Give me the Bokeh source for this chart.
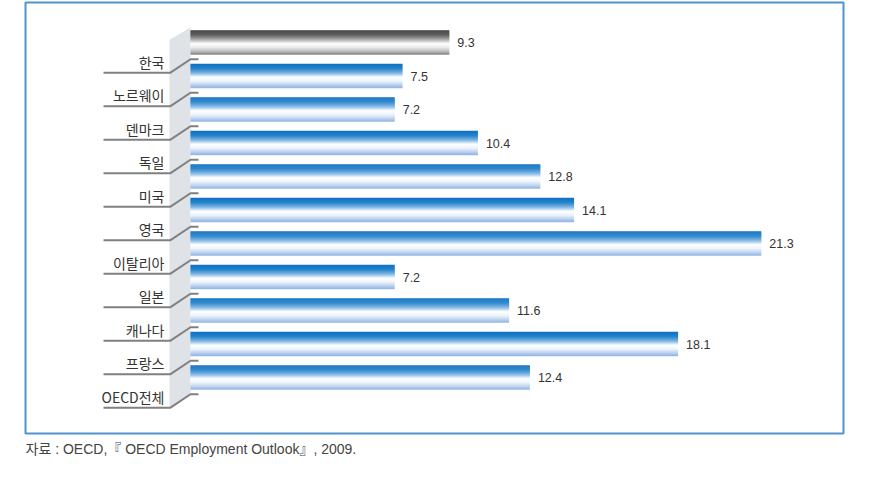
import numpy as np
from bokeh.plotting import figure
from bokeh.models import Range1d, Title, ColumnDataSource
from bokeh.core.properties import value
from bokeh.embed import file_html
from bokeh.resources import INLINE

# ---------------- data ----------------
categories = ["한국", "노르웨이", "덴마크", "독일", "미국", "영국",
              "이탈리아", "일본", "캐나다", "프랑스", "OECD전체"]
values = [9.3, 7.5, 7.2, 10.4, 12.8, 14.1, 21.3, 7.2, 11.6, 18.1, 12.4]
value_labels = ["9.3", "7.5", "7.2", "10.4", "12.8", "14.1",
                "21.3", "7.2", "11.6", "18.1", "12.4"]
highlight = ["한국"]
source_note = "자료 : OECD,『 OECD Employment Outlook』, 2009."

# ---------------- layout helpers (pixel -> data) ----------------
W, H = 876, 472
FL, FR, FT, FB = 25, 843, 2, 433          # frame edges in pixels
X0, XS = 207.0, 26.0                      # x pixel of value 0, px per unit
Y0, YS = 42.0, 33.5                       # y pixel of first row, px per row


def X(px):
    return (px - X0) / XS


def Y(py):
    return (py - Y0) / YS


BAR_H = 24 / YS
N_STRIPS = 24

blue_stops = [(0.0, "#1170bf"), (0.2, "#2383cb"), (0.4, "#86b9e5"),
              (0.56, "#ffffff"), (0.72, "#eef4fb"), (0.88, "#bcd2ef"),
              (1.0, "#8fb2e3")]
gray_stops = [(0.0, "#3a3a3a"), (0.2, "#555555"), (0.4, "#aaaaaa"),
              (0.56, "#ffffff"), (0.72, "#e9e9e9"), (0.88, "#b8b8b8"),
              (1.0, "#808080")]


def hex2rgb(h):
    h = h.lstrip("#")
    return np.array([int(h[k:k + 2], 16) for k in (0, 2, 4)], dtype=float)


def grad(stops, t):
    for (t0, c0), (t1, c1) in zip(stops[:-1], stops[1:]):
        if t0 <= t <= t1:
            f = (t - t0) / (t1 - t0) if t1 > t0 else 0
            c = hex2rgb(c0) * (1 - f) + hex2rgb(c1) * f
            return "#%02x%02x%02x" % tuple(int(round(v)) for v in c)
    return stops[-1][1]


p = figure(width=W, height=H, output_backend="svg", toolbar_location=None,
           x_axis_location=None, y_axis_location=None,
           x_range=Range1d(X(FL), X(FR)), y_range=Range1d(Y(FB), Y(FT)),
           min_border_left=FL, min_border_right=W - FR,
           min_border_top=FT, min_border_bottom=H - FB,
           outline_line_color="#4f93d1", outline_line_width=2,
           background_fill_color="white", border_fill_color="white")
p.grid.visible = False

idx = np.arange(len(categories))

# side wall
p.patch(x=[X(169), X(190), X(190), X(169)],
        y=[-0.08, -0.45, len(categories) - 0.5, len(categories) - 0.1],
        fill_color="#dfe2e7", line_color=None)

# gradient bars built from thin strips
ys, rights, cols = [], [], []
step = BAR_H / N_STRIPS
for i, (cat, v) in enumerate(zip(categories, values)):
    stops = gray_stops if cat in highlight else blue_stops
    for k in range(N_STRIPS):
        t = (k + 0.5) / N_STRIPS
        ys.append(i - BAR_H / 2 + (k + 0.5) * step)
        rights.append(v)
        cols.append(grad(stops, t))
src = ColumnDataSource(dict(y=ys, right=rights, color=cols))
p.hbar(y="y", left=X(190), right="right", height=step * 1.35,
       fill_color="color", line_color=None, source=src)

# label leader lines
xs_l = [[X(103), X(170), X(190), X(198)] for _ in idx]
ys_l = [[i + 0.9, i + 0.9, i + 0.5, i + 0.5] for i in idx]
p.multi_line(xs=xs_l, ys=ys_l, line_color="#808080", line_width=2)

# category labels
p.text(x=[X(164)] * len(categories), y=idx + 0.57, text=categories,
       text_align="right", text_baseline="middle",
       text_font=value("Noto Sans CJK KR"), text_font_size="14px",
       text_color="#333333")

# value labels
p.text(x=values, y=idx, text=value_labels, x_offset=8,
       text_align="left", text_baseline="middle",
       text_font=value("Liberation Sans"), text_font_size="12.5px",
       text_color="#333333")

# source note
p.add_layout(Title(text=source_note, align="left", text_font_size="14px",
                   text_font="Liberation Sans, Noto Sans CJK KR",
                   text_font_style="normal",
                   text_color="#444444", standoff=11, offset=0), "below")

open("out.html", "w").write(file_html(p, INLINE))
